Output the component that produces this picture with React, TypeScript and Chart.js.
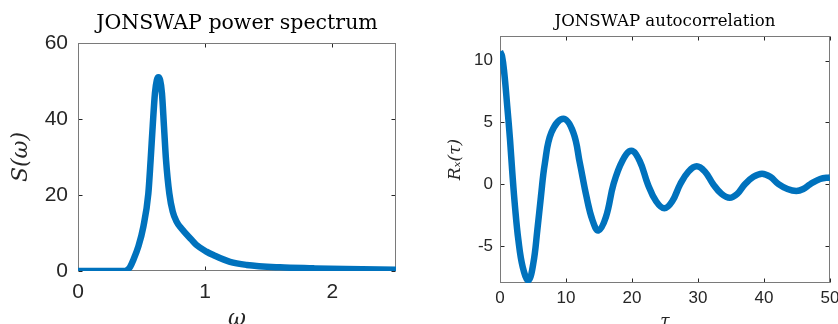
import React, { useEffect, useRef } from 'react';
import { Chart, registerables } from 'chart.js';

Chart.register(...registerables);

// ---- Data ----
const spectrumOmega = [0, 0.2, 0.37, 0.39, 0.41, 0.435, 0.474, 0.514, 0.553, 0.571, 0.587, 0.605, 0.62, 0.632, 0.645, 0.66, 0.676, 0.692, 0.718, 0.745, 0.775, 0.81, 0.894, 0.933, 1.01, 1.064, 1.195, 1.326, 1.588, 1.85, 2.1, 2.5];
const spectrumS = [0, 0, 0, 0.3, 1.1, 2.9, 6.4, 11.7, 20.4, 29.2, 38, 46.8, 50.3, 51, 50.3, 46.8, 38, 29.2, 20.4, 15.6, 13.0, 11.3, 8.2, 6.8, 5.1, 4.2, 2.4, 1.6, 0.96, 0.7, 0.5, 0.35];

const acfTau = [0, 0.3, 0.65, 1.1, 1.52, 1.87, 2.27, 2.78, 3.44, 4.3, 5.05, 5.66, 6.2, 6.8, 7.8, 9.6, 11.1, 12.1, 13.1, 14.0, 14.9, 16.05, 17.2, 18.55, 19.9, 21.15, 22.4, 23.65, 24.9, 26.1, 27.3, 28.55, 29.8, 31.05, 32.3, 33.55, 34.8, 35.95, 37.1, 38.4, 39.7, 40.95, 42.2, 43.55, 44.9, 45.95, 47.0, 48.5, 50];
const acfR = [10.75, 10.4, 9.0, 6.3, 3.6, 0.9, -1.8, -4.5, -6.7, -7.8, -6.4, -3.7, -1.0, 1.7, 4.2, 5.3, 4.2, 1.7, -1.0, -2.9, -3.75, -2.65, 0, 1.9, 2.7, 1.9, 0, -1.38, -1.95, -1.38, 0, 1.02, 1.45, 1.02, 0, -0.78, -1.1, -0.78, 0, 0.6, 0.85, 0.6, 0, -0.39, -0.55, -0.39, 0, 0.42, 0.55];

const spectrumXTicks = [0, 1, 2];
const spectrumYTicks = [0, 20, 40, 60];
const acfXTicks = [0, 10, 20, 30, 40, 50];
const acfYTicks = [-5, 0, 5, 10];

const LINE_COLOR = '#0072BD';
const TEXT_COLOR = '#262626';

const boxPlugin = {
  id: 'matlabBox',
  beforeDatasetsDraw(chart: any) {
    const { ctx, chartArea } = chart;
    const { left, right, top, bottom } = chartArea;
    const xs = chart.scales.x;
    const ys = chart.scales.y;
    ctx.save();
    const L = Math.round(left) + 0.5;
    const R = Math.round(right) - 0.5;
    const T = Math.round(top) + 0.5;
    const B = Math.round(bottom) - 0.5;
    ctx.strokeStyle = '#262626';
    ctx.lineWidth = 1;
    const tl = 4;
    ctx.beginPath();
    xs.ticks.forEach((t: any) => {
      const px = Math.round(xs.getPixelForValue(t.value)) + 0.5;
      ctx.moveTo(px, B);
      ctx.lineTo(px, B - tl);
      ctx.moveTo(px, T);
      ctx.lineTo(px, T + tl);
    });
    ys.ticks.forEach((t: any) => {
      const py = Math.round(ys.getPixelForValue(t.value)) + 0.5;
      ctx.moveTo(L, py);
      ctx.lineTo(L + tl, py);
      ctx.moveTo(R, py);
      ctx.lineTo(R - tl, py);
    });
    ctx.stroke();
    ctx.strokeStyle = '#7a7a7a';
    ctx.strokeRect(L, T, R - L, B - T);
    ctx.restore();
  },
};

type PanelSpec = {
  xs: number[];
  ys: number[];
  title: string;
  titleSize: number;
  titlePad: { top: number; bottom: number };
  xMin: number;
  xMax: number;
  yMin: number;
  yMax: number;
  xTicks: number[];
  yTicks: number[];
  tickSize: number;
  xTickPad: number;
  yTickPad: number;
  xTitle: string;
  yTitle: string;
  axisTitleSize: number;
  xTitlePadBottom: number;
  yTitlePadTop: number;
  yWidth: number;
  xHeight: number;
  padRight: number;
  monotone: boolean;
  tension: number;
};

function buildConfig(p: PanelSpec): any {
  const points = p.xs.map((x, i) => ({ x, y: p.ys[i] }));
  return {
    type: 'line',
    data: {
      datasets: [
        {
          data: points,
          borderColor: LINE_COLOR,
          borderWidth: 6.5,
          pointRadius: 0,
          fill: false,
          cubicInterpolationMode: p.monotone ? 'monotone' : 'default',
          tension: p.tension,
          borderJoinStyle: 'round',
        },
      ],
    },
    options: {
      animation: false,
      responsive: false,
      devicePixelRatio: 1,
      layout: { padding: { left: 0, right: p.padRight, top: 0, bottom: 0 } },
      plugins: {
        legend: { display: false },
        tooltip: { enabled: false },
        title: {
          display: true,
          text: p.title,
          fullSize: false,
          color: '#000000',
          font: { family: "'DejaVu Serif'", size: p.titleSize, weight: 'normal', lineHeight: 1.2 },
          padding: p.titlePad,
        },
      },
      scales: {
        x: {
          type: 'linear',
          min: p.xMin,
          max: p.xMax,
          afterBuildTicks: (s: any) => {
            s.ticks = p.xTicks.map((v) => ({ value: v }));
          },
          afterFit: (s: any) => {
            s.height = p.xHeight;
            s.paddingLeft = 0;
            s.paddingRight = 0;
          },
          grid: { display: false, drawTicks: false },
          border: { display: false },
          ticks: {
            color: TEXT_COLOR,
            padding: p.xTickPad,
            maxRotation: 0,
            autoSkip: false,
            font: { family: "'Liberation Sans', Arial", size: p.tickSize, lineHeight: 1.2 },
          },
          title: {
            display: true,
            text: p.xTitle,
            color: TEXT_COLOR,
            font: { family: "'DejaVu Serif'", style: 'italic', size: p.axisTitleSize, lineHeight: 1.2 },
            padding: { top: 0, bottom: p.xTitlePadBottom },
          },
        },
        y: {
          type: 'linear',
          min: p.yMin,
          max: p.yMax,
          afterBuildTicks: (s: any) => {
            s.ticks = p.yTicks.map((v) => ({ value: v }));
          },
          afterFit: (s: any) => {
            s.width = p.yWidth;
            s.paddingTop = 0;
            s.paddingBottom = 0;
          },
          grid: { display: false, drawTicks: false },
          border: { display: false },
          ticks: {
            color: TEXT_COLOR,
            padding: p.yTickPad,
            autoSkip: false,
            font: { family: "'Liberation Sans', Arial", size: p.tickSize, lineHeight: 1.2 },
          },
          title: {
            display: true,
            text: p.yTitle,
            color: TEXT_COLOR,
            font: { family: "'DejaVu Serif'", style: 'italic', size: p.axisTitleSize, lineHeight: 1.2 },
            padding: { top: p.yTitlePadTop, bottom: 0 },
          },
        },
      },
    },
    plugins: [boxPlugin],
  };
}

function Panel({ spec, left, width }: { spec: PanelSpec; left: number; width: number }) {
  const ref = useRef<HTMLCanvasElement | null>(null);
  useEffect(() => {
    if (!ref.current) return;
    const chart = new Chart(ref.current, buildConfig(spec));
    return () => chart.destroy();
  }, []);
  return (
    <canvas
      ref={ref}
      width={width}
      height={324}
      style={{ position: 'absolute', left, top: 0, width, height: 324 }}
    />
  );
}

const leftSpec: PanelSpec = {
  xs: spectrumOmega,
  ys: spectrumS,
  title: 'JONSWAP power spectrum',
  titleSize: 20.5,
  titlePad: { top: 11.7, bottom: 6.7 },
  xMin: 0,
  xMax: 2.5,
  yMin: 0,
  yMax: 60,
  xTicks: spectrumXTicks,
  yTicks: spectrumYTicks,
  tickSize: 21,
  xTickPad: 9,
  yTickPad: 10,
  xTitle: 'ω',
  yTitle: 'S(ω)',
  axisTitleSize: 22,
  xTitlePadBottom: -8.5,
  yTitlePadTop: 8.3,
  yWidth: 78,
  xHeight: 53,
  padRight: 24,
  monotone: true,
  tension: 0.4,
};

const rightSpec: PanelSpec = {
  xs: acfTau,
  ys: acfR,
  title: 'JONSWAP autocorrelation',
  titleSize: 16.6,
  titlePad: { top: 11.7, bottom: 4.4 },
  xMin: 0,
  xMax: 50,
  yMin: -8,
  yMax: 12,
  xTicks: acfXTicks,
  yTicks: acfYTicks,
  tickSize: 17,
  xTickPad: 5,
  yTickPad: 7,
  xTitle: 'τ',
  yTitle: 'Rₓ(τ)',
  axisTitleSize: 17,
  xTitlePadBottom: -7.5,
  yTitlePadTop: 25.8,
  yWidth: 80,
  xHeight: 41,
  padRight: 8,
  monotone: false,
  tension: 0.4,
};

export default function App() {
  return (
    <div style={{ position: 'fixed', left: 0, top: 0, width: 838, height: 324, background: '#ffffff' }}>
      <Panel spec={leftSpec} left={0} width={420} />
      <Panel spec={rightSpec} left={420} width={418} />
    </div>
  );
}
